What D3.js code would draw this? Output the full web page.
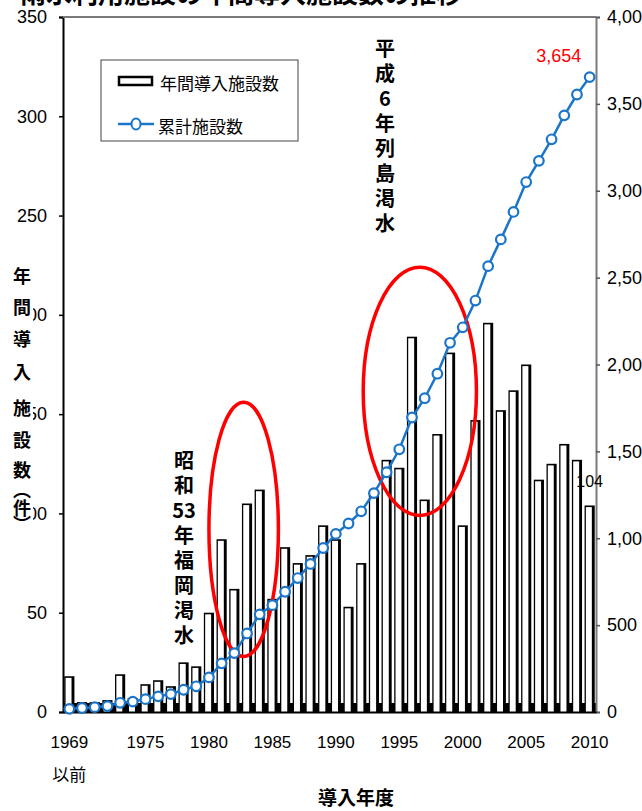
<!DOCTYPE html>
<html lang="ja">
<head>
<meta charset="utf-8">
<script src="https://cdn.jsdelivr.net/npm/d3@7"></script>
<style>
  html, body { margin: 0; padding: 0; background: #fff; }
  svg { display: block; }
</style>
</head>
<body>
<svg id="chart" width="642" height="811"></svg>
<script>
// Fiscal-year categories (the first bucket gathers everything up to 1969)
const categories = ["1969以前","1970","1971","1972","1973","1974","1975","1976","1977","1978","1979",
  "1980","1981","1982","1983","1984","1985","1986","1987","1988","1989",
  "1990","1991","1992","1993","1994","1995","1996","1997","1998","1999",
  "2000","2001","2002","2003","2004","2005","2006","2007","2008","2009","2010"];

// Facilities introduced in each year (件)
const annualCounts = [18,5,5,6,19,7,14,16,13,25,23,
  50,87,62,105,112,57,83,75,79,94,
  87,53,75,110,127,123,189,107,140,181,
  94,147,196,152,162,175,117,125,135,127,104];

// Running total of facilities
const cumulativeCounts = [18,23,28,34,53,60,74,90,103,128,148,
  199,280,339,452,562,615,692,771,852,944,
  1025,1085,1155,1260,1380,1512,1695,1806,1947,2125,
  2214,2368,2566,2720,2878,3050,3172,3296,3434,3554,3654];

const leftTicks = [0,50,100,150,200,250,300,350];
const rightTicks = [0,500,1000,1500,2000,2500,3000,3500,4000];
const xTickLabels = ["1969以前","1975","1980","1985","1990","1995","2000","2005","2010"];

const legendLabels = ["年間導入施設数","累計施設数"];
const yAxisTitle = ["年","間","導","入","施","設","数","︵","件","︶"];
const xAxisTitle = "導入年度";
const chartTitle = "雨水利用施設の年間導入施設数の推移";
const noteFukuoka = ["昭","和","53","年","福","岡","渇","水"];
const noteRetto = ["平","成","6","年","列","島","渇","水"];

const svg = d3.select("#chart");
const L = 63, R = 596, T = 17, B = 712;
const latin = "'Liberation Sans', Arial, sans-serif";
const cjk = "'Noto Sans CJK JP', 'Noto Sans', sans-serif";
const blue = "#1b75c8";

const x = d3.scaleBand().domain(categories).range([L, R]).paddingInner(0.2).paddingOuter(0.1);
const yL = d3.scaleLinear().domain([0, 350]).range([B, T]);
const yR = d3.scaleLinear().domain([0, 4000]).range([B, T]);
const cx = c => x(c) + x.bandwidth() / 2;

// title, mostly above the visible area
svg.append("text").attr("x", 20).attr("y", 3)
  .attr("font-family", cjk).attr("font-weight", 700).attr("font-size", 26)
  .text(chartTitle);

// dark strip along the base between the bars
svg.append("rect").attr("x", L).attr("y", B - 9).attr("width", R - L).attr("height", 9).attr("fill", "#000");

// bars: black body with a white face, heavier on the right edge
const bars = svg.append("g");
const bw = x.bandwidth();
bars.selectAll("rect.outer").data(categories).join("rect")
  .attr("class", "outer")
  .attr("x", d => x(d)).attr("width", bw)
  .attr("y", (d, i) => yL(annualCounts[i])).attr("height", (d, i) => B - yL(annualCounts[i]))
  .attr("fill", "#000");
bars.selectAll("rect.inner").data(categories).join("rect")
  .attr("class", "inner")
  .attr("x", d => x(d) + 1.3).attr("width", bw - 4.2)
  .attr("y", (d, i) => Math.min(yL(annualCounts[i]) + 1.6, B))
  .attr("height", (d, i) => Math.max(B - yL(annualCounts[i]) - 1.6, 0))
  .attr("fill", "#fff");

// left axis
const axL = svg.append("g").attr("transform", `translate(${L},0)`)
  .call(d3.axisLeft(yL).tickValues(leftTicks).tickSize(4).tickPadding(12).tickFormat(d3.format("d")));
axL.select(".domain").attr("stroke", "#000").attr("stroke-width", 2);
axL.selectAll(".tick line").attr("stroke", "#000").attr("stroke-width", 1.5);
axL.selectAll(".tick text").attr("font-family", latin).attr("font-size", 18).attr("fill", "#000");

// right axis
const axR = svg.append("g").attr("transform", `translate(${R},0)`)
  .call(d3.axisRight(yR).tickValues(rightTicks).tickSize(4).tickPadding(7).tickFormat(d3.format(",")));
axR.select(".domain").attr("stroke", "#7a7a7a").attr("stroke-width", 2);
axR.selectAll(".tick line").attr("stroke", "#555").attr("stroke-width", 1.5);
axR.selectAll(".tick text").attr("font-family", latin).attr("font-size", 18).attr("fill", "#000");

// top frame line
svg.append("line").attr("x1", L).attr("x2", R).attr("y1", T).attr("y2", T)
  .attr("stroke", "#7a7a7a").attr("stroke-width", 2);

// bottom axis
const axB = svg.append("g").attr("transform", `translate(0,${B})`)
  .call(d3.axisBottom(x).tickValues(xTickLabels).tickSize(0).tickPadding(24));
axB.select(".domain").attr("stroke", "#000").attr("stroke-width", 2);
axB.selectAll(".tick text").attr("font-family", latin).attr("font-size", 17).attr("fill", "#000")
  .each(function (d) {
    if (d === "1969以前") {
      const t = d3.select(this).text(null);
      t.append("tspan").attr("x", 0).text("1969");
      t.append("tspan").attr("x", 0).attr("dy", 33).attr("font-family", cjk).text("以前");
    }
  });

// y-axis title on a white strip
svg.append("rect").attr("x", 10).attr("y", 262).attr("width", 23).attr("height", 272).attr("fill", "#fff");
const yTitlePos = [275, 306, 338, 371, 407, 439, 469, 489, 507, 523];
svg.append("g").selectAll("text").data(yAxisTitle).join("text")
  .attr("x", 22).attr("y", (d, i) => yTitlePos[i])
  .attr("text-anchor", "middle").attr("dominant-baseline", "central")
  .attr("font-family", cjk).attr("font-weight", 700).attr("font-size", 18)
  .text(d => d);

// x-axis title
svg.append("text").attr("x", 356).attr("y", 805).attr("text-anchor", "middle")
  .attr("font-family", cjk).attr("font-weight", 700).attr("font-size", 19).text(xAxisTitle);

// drought annotations
function verticalNote(chars, xPos, yStart, pitch) {
  svg.append("g").selectAll("text").data(chars).join("text")
    .attr("x", xPos).attr("y", (d, i) => yStart + i * pitch)
    .attr("text-anchor", "middle").attr("dominant-baseline", "central")
    .attr("font-family", cjk).attr("font-weight", 700).attr("font-size", 20)
    .text(d => d);
}
verticalNote(noteFukuoka, 184, 459, 25);
verticalNote(noteRetto, 385, 47, 25);

// red ellipses around the drought years
function ringAround(c0, c1, vTop, vBottom, dx0, dx1) {
  const x0 = cx(c0) + dx0, x1 = cx(c1) + dx1;
  const y0 = yL(vTop), y1 = yL(vBottom);
  svg.append("ellipse")
    .attr("cx", (x0 + x1) / 2).attr("cy", (y0 + y1) / 2)
    .attr("rx", (x1 - x0) / 2).attr("ry", (y1 - y0) / 2)
    .attr("fill", "none").attr("stroke", "#f00").attr("stroke-width", 3.5);
}
ringAround("1980", "1985", 156, 28, 0, 6);
ringAround("1992", "2001", 224, 99, 2, 1);

// cumulative line
const line = d3.line().x((d, i) => cx(categories[i])).y(d => yR(d));
svg.append("path").datum(cumulativeCounts).attr("d", line)
  .attr("fill", "none").attr("stroke", blue).attr("stroke-width", 2.5);
svg.append("g").selectAll("circle").data(cumulativeCounts).join("circle")
  .attr("cx", (d, i) => cx(categories[i])).attr("cy", d => yR(d)).attr("r", 4.8)
  .attr("fill", "#fff").attr("stroke", blue).attr("stroke-width", 2.2);

// value labels
const lastIdx = categories.length - 1;
svg.append("text").attr("x", cx(categories[lastIdx]) - 31).attr("y", 62).attr("text-anchor", "middle")
  .attr("font-family", latin).attr("font-size", 18).attr("fill", "#f00")
  .text(d3.format(",")(cumulativeCounts[lastIdx]));
svg.append("text").attr("x", cx(categories[lastIdx])).attr("y", 487).attr("text-anchor", "middle")
  .attr("font-family", latin).attr("font-size", 16).attr("fill", "#000")
  .text(annualCounts[lastIdx]);

// legend
const lg = svg.append("g");
lg.append("rect").attr("x", 101).attr("y", 60).attr("width", 197).attr("height", 81)
  .attr("fill", "#fff").attr("stroke", "#444").attr("stroke-width", 1);
lg.append("rect").attr("x", 119).attr("y", 77).attr("width", 33).attr("height", 8)
  .attr("fill", "#fff").attr("stroke", "#000").attr("stroke-width", 2.5);
lg.append("text").attr("x", 160).attr("y", 82).attr("dominant-baseline", "central")
  .attr("font-family", cjk).attr("font-size", 17).text(legendLabels[0]);
lg.append("line").attr("x1", 118).attr("x2", 154).attr("y1", 124).attr("y2", 124)
  .attr("stroke", blue).attr("stroke-width", 2.5);
lg.append("ellipse").attr("cx", 136).attr("cy", 124).attr("rx", 4.5).attr("ry", 5.5)
  .attr("fill", "#fff").attr("stroke", blue).attr("stroke-width", 2);
lg.append("text").attr("x", 158).attr("y", 125).attr("dominant-baseline", "central")
  .attr("font-family", cjk).attr("font-size", 17).text(legendLabels[1]);
</script>
</body>
</html>
